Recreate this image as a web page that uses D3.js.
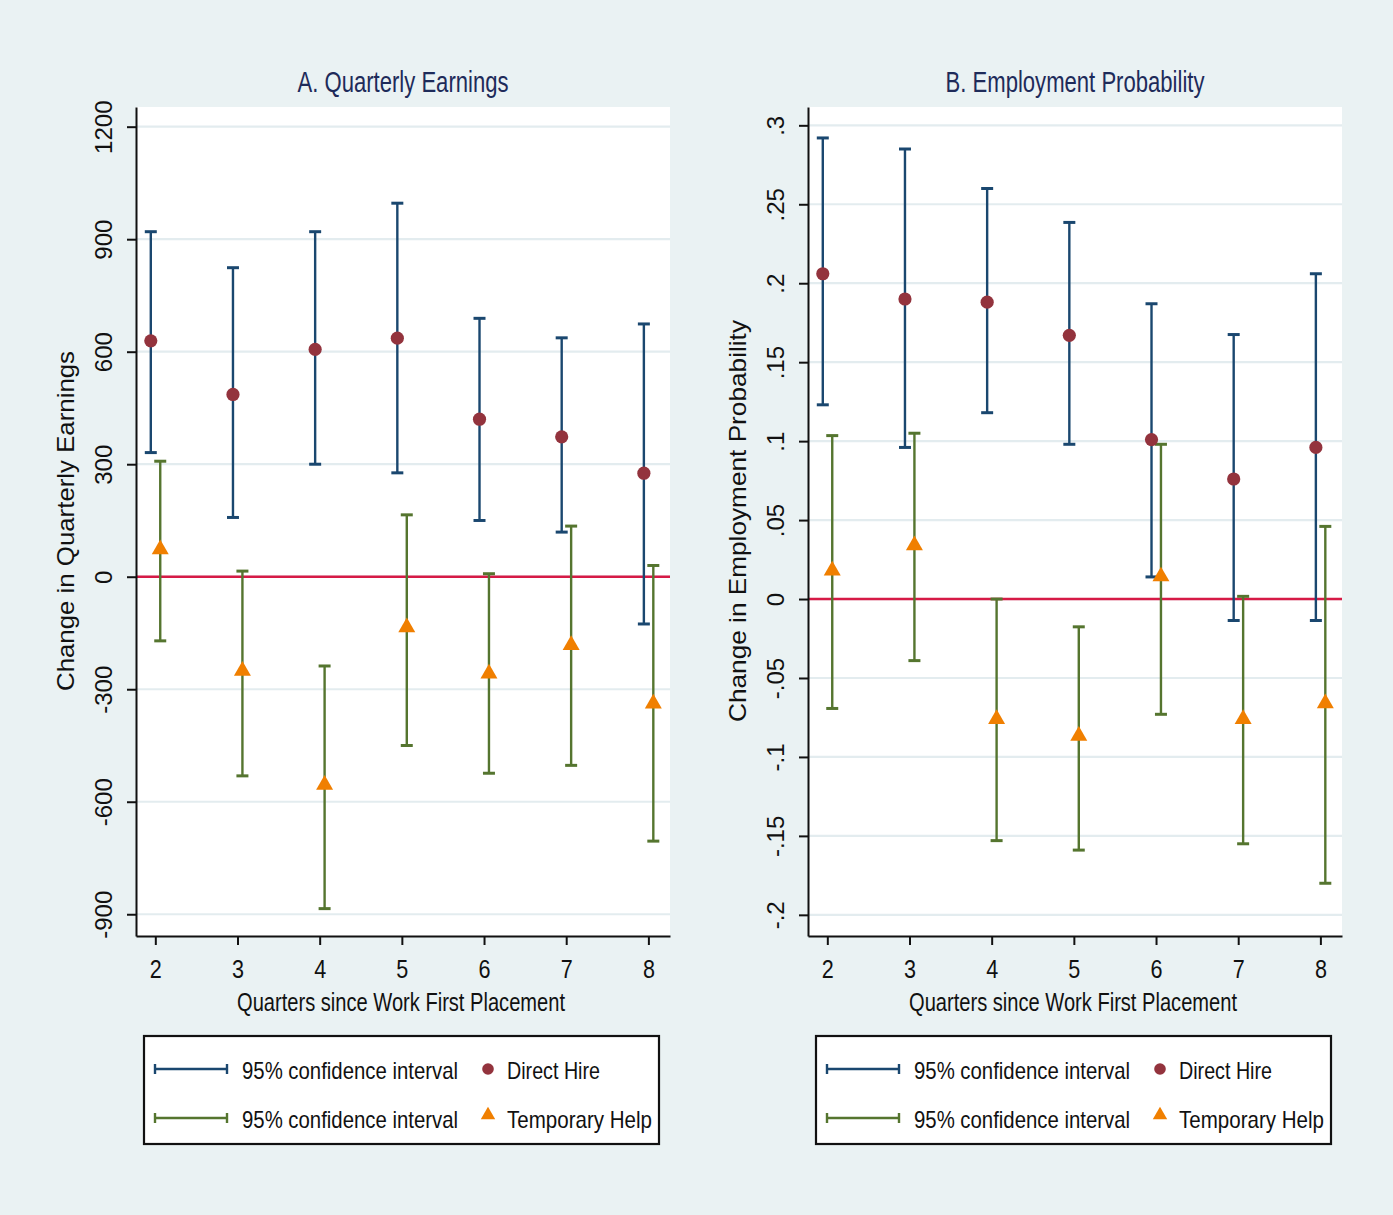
<!DOCTYPE html>
<html>
<head>
<meta charset="utf-8">
<script src="https://cdn.jsdelivr.net/npm/d3@7"></script>
<style>
  html, body { margin: 0; padding: 0; background: #eaf2f3; }
  svg { display: block; }
  text { font-family: "Liberation Sans", Arial, Helvetica, sans-serif; }
</style>
</head>
<body>
<svg id="chart" width="1393" height="1215"></svg>
<script>
// ---------------- DATA ----------------
const quarters = [2, 3, 4, 5, 6, 7, 8];
const xTickLabels = ["2", "3", "4", "5", "6", "7", "8"];

// Panel A: Quarterly Earnings
const earnDirect   = [629, 486, 606, 636, 420, 373, 276];
const earnDirectLo = [331, 158, 300, 277, 150, 119, -126];
const earnDirectHi = [920, 824, 920, 996, 689, 637, 674];
const earnTemp     = [73, -251, -555, -135, -258, -182, -338];
const earnTempLo   = [-171, -531, -885, -450, -524, -503, -705];
const earnTempHi   = [308, 15, -238, 165, 8, 135, 30];
const earnTicks      = [-900, -600, -300, 0, 300, 600, 900, 1200];
const earnTickLabels = ["-900", "-600", "-300", "0", "300", "600", "900", "1200"];

// Panel B: Employment Probability
const empDirect   = [0.206, 0.190, 0.188, 0.167, 0.101, 0.076, 0.096];
const empDirectLo = [0.123, 0.096, 0.118, 0.098, 0.014, -0.0136, -0.0136];
const empDirectHi = [0.292, 0.285, 0.260, 0.2385, 0.187, 0.1675, 0.206];
const empTemp     = [0.018, 0.034, -0.076, -0.0866, 0.0143, -0.076, -0.066];
const empTempLo   = [-0.0693, -0.039, -0.153, -0.159, -0.073, -0.155, -0.180];
const empTempHi   = [0.1035, 0.105, 0.0, -0.0176, 0.098, 0.0017, 0.046];
const empTicks      = [-0.2, -0.15, -0.1, -0.05, 0, 0.05, 0.1, 0.15, 0.2, 0.25, 0.3];
const empTickLabels = ["-.2", "-.15", "-.1", "-.05", "0", ".05", ".1", ".15", ".2", ".25", ".3"];

const legendLabels = ["95% confidence interval", "Direct Hire", "95% confidence interval", "Temporary Help"];

// ---------------- STYLE ----------------
const C = {
  bg: "#eaf2f3", plot: "#ffffff", grid: "#e3ecef",
  ci1: "#1a476f", dh: "#93333d", ci2: "#55752f", th: "#f07f00",
  zero: "#d61a46", title: "#1e2b5a", axis: "#111111"
};

const svg = d3.select("#chart");
svg.append("rect").attr("width", 1393).attr("height", 1215).attr("fill", C.bg);

const panels = [
  {
    left: 136, title: "A. Quarterly Earnings", titleLen: 211,
    ytitle: "Change in Quarterly Earnings", ytitleLen: 340,
    yDomain: [-958, 1252.5], ticks: earnTicks, tickLabels: earnTickLabels,
    dh: earnDirect, dhLo: earnDirectLo, dhHi: earnDirectHi,
    th: earnTemp, thLo: earnTempLo, thHi: earnTempHi
  },
  {
    left: 808, title: "B. Employment Probability", titleLen: 259,
    ytitle: "Change in Employment Probability", ytitleLen: 402,
    yDomain: [-0.2134, 0.3116], ticks: empTicks, tickLabels: empTickLabels,
    dh: empDirect, dhLo: empDirectLo, dhHi: empDirectHi,
    th: empTemp, thLo: empTempLo, thHi: empTempHi
  }
];

const plotTop = 107, plotBottom = 936, plotWidth = 534;
const dhOff = -0.055, thOff = 0.06;

panels.forEach(p => {
  const x = d3.scaleLinear().domain([1.765, 8.263]).range([p.left, p.left + plotWidth]);
  const y = d3.scaleLinear().domain(p.yDomain).range([plotBottom, plotTop]);
  const g = svg.append("g");

  // plot region
  g.append("rect").attr("x", p.left).attr("y", plotTop)
    .attr("width", plotWidth).attr("height", plotBottom - plotTop).attr("fill", C.plot);

  // gridlines
  g.append("g").selectAll("line").data(p.ticks).join("line")
    .attr("x1", p.left).attr("x2", p.left + plotWidth)
    .attr("y1", d => y(d)).attr("y2", d => y(d))
    .attr("stroke", C.grid).attr("stroke-width", 2.2);

  // zero line
  g.append("line").attr("x1", p.left).attr("x2", p.left + plotWidth)
    .attr("y1", y(0)).attr("y2", y(0)).attr("stroke", C.zero).attr("stroke-width", 2.6);

  // Y axis
  const yAxis = d3.axisLeft(y).tickValues(p.ticks)
    .tickFormat((d, i) => p.tickLabels[i]).tickSize(9).tickSizeOuter(0);
  const ya = g.append("g").attr("transform", `translate(${p.left},0)`).call(yAxis);
  ya.select(".domain").attr("stroke", C.axis).attr("stroke-width", 2);
  ya.selectAll(".tick line").attr("stroke", C.axis).attr("stroke-width", 2);
  ya.selectAll(".tick text")
    .attr("x", null).attr("dy", null)
    .attr("transform", "translate(-24,0) rotate(-90)")
    .attr("text-anchor", "middle")
    .attr("font-size", 24).attr("fill", C.axis)
    .attr("font-family", "'Liberation Sans', Arial, sans-serif");

  // X axis
  const xAxis = d3.axisBottom(x).tickValues(quarters)
    .tickFormat((d, i) => xTickLabels[i]).tickSize(9).tickSizeOuter(0);
  const xa = g.append("g").attr("transform", `translate(0,${plotBottom})`).call(xAxis);
  xa.select(".domain").attr("stroke", C.axis).attr("stroke-width", 2);
  xa.selectAll(".tick line").attr("stroke", C.axis).attr("stroke-width", 2);
  xa.selectAll(".tick text")
    .attr("y", 42).attr("dy", null)
    .attr("font-size", 25).attr("fill", C.axis)
    .attr("textLength", 12).attr("lengthAdjust", "spacingAndGlyphs");

  // titles
  g.append("text").attr("x", p.left + 267).attr("y", 92)
    .attr("text-anchor", "middle").attr("font-size", 29).attr("fill", C.title)
    .attr("textLength", p.titleLen).attr("lengthAdjust", "spacingAndGlyphs")
    .text(p.title);
  g.append("text").attr("x", p.left + 265).attr("y", 1011)
    .attr("text-anchor", "middle").attr("font-size", 25).attr("fill", C.axis)
    .attr("textLength", 328).attr("lengthAdjust", "spacingAndGlyphs")
    .text("Quarters since Work First Placement");
  g.append("text")
    .attr("transform", `translate(${p.left - 62},${521}) rotate(-90)`)
    .attr("text-anchor", "middle").attr("font-size", 24).attr("fill", C.axis)
    .attr("textLength", p.ytitleLen).attr("lengthAdjust", "spacingAndGlyphs")
    .text(p.ytitle);

  // error bars
  function drawCI(lo, hi, off, color) {
    const gg = g.append("g").attr("stroke", color).attr("stroke-width", 2.4);
    gg.selectAll("line.v").data(quarters).join("line").attr("class", "v")
      .attr("x1", (d) => x(d + off)).attr("x2", (d) => x(d + off))
      .attr("y1", (d, i) => y(lo[i])).attr("y2", (d, i) => y(hi[i]));
    [lo, hi].forEach(arr => {
      gg.selectAll(null).data(quarters).join("line")
        .attr("x1", (d) => x(d + off) - 6).attr("x2", (d) => x(d + off) + 6)
        .attr("y1", (d, i) => y(arr[i])).attr("y2", (d, i) => y(arr[i]))
        .attr("stroke-width", 3);
    });
  }
  drawCI(p.dhLo, p.dhHi, dhOff, C.ci1);
  drawCI(p.thLo, p.thHi, thOff, C.ci2);

  // markers
  g.append("g").selectAll("circle").data(quarters).join("circle")
    .attr("cx", d => x(d + dhOff)).attr("cy", (d, i) => y(p.dh[i]))
    .attr("r", 6.6).attr("fill", C.dh);
  const tri = d3.symbol().type(d3.symbolTriangle).size(125);
  g.append("g").selectAll("path").data(quarters).join("path")
    .attr("d", tri)
    .attr("transform", (d, i) => `translate(${x(d + thOff)},${y(p.th[i])})`)
    .attr("fill", C.th);

  // legend
  const lx = p.left + 8, ly = 1036;
  const lg = g.append("g");
  lg.append("rect").attr("x", lx).attr("y", ly).attr("width", 515).attr("height", 108)
    .attr("fill", "#ffffff").attr("stroke", "#111").attr("stroke-width", 2.2);
  const rows = [
    { y: 1069, ci: C.ci1, marker: "circle", mc: C.dh, t1: legendLabels[0], t2: legendLabels[1], l2: 93 },
    { y: 1118, ci: C.ci2, marker: "tri", mc: C.th, t1: legendLabels[2], t2: legendLabels[3], l2: 145 }
  ];
  rows.forEach(r => {
    lg.append("line").attr("x1", lx + 11).attr("x2", lx + 83).attr("y1", r.y).attr("y2", r.y)
      .attr("stroke", r.ci).attr("stroke-width", 2.4);
    [lx + 11, lx + 83].forEach(cx => {
      lg.append("line").attr("x1", cx).attr("x2", cx).attr("y1", r.y - 5).attr("y2", r.y + 5)
        .attr("stroke", r.ci).attr("stroke-width", 2.4);
    });
    lg.append("text").attr("x", lx + 98).attr("y", r.y + 10).attr("font-size", 24).attr("fill", C.axis)
      .attr("textLength", 216).attr("lengthAdjust", "spacingAndGlyphs").text(r.t1);
    if (r.marker === "circle") {
      lg.append("circle").attr("cx", lx + 344).attr("cy", r.y).attr("r", 5.8).attr("fill", r.mc);
    } else {
      lg.append("path").attr("d", d3.symbol().type(d3.symbolTriangle).size(90))
        .attr("transform", `translate(${lx + 344},${r.y - 3})`).attr("fill", r.mc);
    }
    lg.append("text").attr("x", lx + 363).attr("y", r.y + 10).attr("font-size", 24).attr("fill", C.axis)
      .attr("textLength", r.l2).attr("lengthAdjust", "spacingAndGlyphs").text(r.t2);
  });
});
</script>
</body>
</html>
